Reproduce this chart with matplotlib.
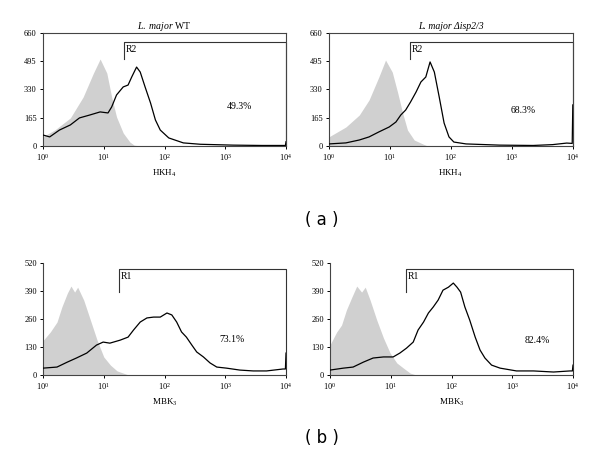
import matplotlib
matplotlib.use("Agg")
import matplotlib.pyplot as plt

plt.rcParams["font.family"] = ["Liberation Serif", "DejaVu Serif"]
plt.rcParams["mathtext.fontset"] = "custom"
plt.rcParams["mathtext.rm"] = "Liberation Serif"
plt.rcParams["mathtext.it"] = "Liberation Serif:italic"

# ---- panel (a) HKH4, WT ----
a1_gray_x = [0.0, 0.2, 0.45, 0.66, 0.83, 0.94, 1.05, 1.13, 1.21, 1.32, 1.43, 1.5, 1.6]
a1_gray_y = [55, 95, 164, 286, 426, 508, 426, 286, 170, 76, 23, 5, 0]
a1_line_x = [0.0, 0.11, 0.27, 0.45, 0.6, 0.77, 0.94, 1.07, 1.13, 1.21, 1.32, 1.4, 1.46,
             1.54, 1.6, 1.68, 1.77, 1.85, 1.93, 2.07, 2.31, 2.59, 3.13, 3.6, 3.99, 4.0]
a1_line_y = [64, 53, 93, 123, 164, 181, 199, 193, 228, 298, 345, 356, 403,
             461, 432, 345, 251, 152, 93, 47, 18, 10, 5, 3, 3, 25]

# ---- panel (a) HKH4, delta isp2/3 ----
a2_gray_x = [0.0, 0.28, 0.5, 0.66, 0.82, 0.93, 1.04, 1.13, 1.21, 1.29, 1.4, 1.54, 1.62]
a2_gray_y = [53, 111, 181, 269, 403, 502, 432, 310, 193, 93, 35, 12, 0]
a2_line_x = [0.0, 0.28, 0.5, 0.66, 0.82, 0.99, 1.1, 1.18, 1.26, 1.34, 1.43, 1.51, 1.59,
             1.66, 1.73, 1.81, 1.89, 1.97, 2.05, 2.25, 2.8, 3.35, 3.67, 3.9, 3.99, 4.0]
a2_line_y = [12, 18, 35, 53, 82, 111, 140, 181, 210, 257, 315, 374, 403,
             491, 432, 286, 134, 53, 23, 12, 5, 3, 8, 17, 15, 240]

# ---- panel (b) MBK3, WT ----
b1_gray_x = [0.0, 0.12, 0.23, 0.31, 0.4, 0.46, 0.52, 0.57, 0.67, 0.78, 0.89, 1.0, 1.11,
             1.22, 1.38, 1.45]
b1_gray_y = [160, 200, 246, 316, 380, 413, 385, 408, 348, 255, 162, 84, 46,
             19, 3, 0]
b1_line_x = [0.0, 0.23, 0.4, 0.55, 0.72, 0.88, 0.99, 1.1, 1.27, 1.4, 1.49, 1.6, 1.71,
             1.82, 1.93, 2.04, 2.12, 2.2, 2.28, 2.36, 2.45, 2.53, 2.64, 2.75, 2.86,
             3.02, 3.24, 3.46, 3.68, 3.95, 3.99, 4.0]
b1_line_y = [32, 37, 60, 79, 102, 139, 153, 148, 162, 176, 209, 246, 265,
             269, 269, 288, 279, 246, 200, 176, 139, 107, 84, 56, 37,
             32, 23, 19, 19, 28, 28, 102]

# ---- panel (b) MBK3, delta isp2/3 ----
b2_gray_x = [0.0, 0.11, 0.19, 0.27, 0.36, 0.44, 0.52, 0.58, 0.66, 0.77, 0.88, 0.99, 1.1,
             1.21, 1.32, 1.42]
b2_gray_y = [140, 200, 232, 302, 362, 413, 385, 408, 348, 255, 172, 102, 56,
             32, 9, 0]
b2_line_x = [0.0, 0.22, 0.38, 0.55, 0.71, 0.88, 1.04, 1.15, 1.26, 1.37, 1.45, 1.54, 1.62,
             1.7, 1.78, 1.86, 1.95, 2.03, 2.09, 2.15, 2.22, 2.3, 2.39, 2.47, 2.55,
             2.66, 2.8, 3.07, 3.35, 3.68, 3.95, 3.99, 4.0]
b2_line_y = [23, 32, 37, 60, 79, 84, 84, 102, 125, 153, 209, 246, 288,
             316, 348, 394, 408, 427, 408, 385, 316, 255, 176, 116, 79,
             46, 32, 19, 19, 14, 19, 19, 46]

titles = [r"$\mathit{L.\ major}$ WT", "L. major \u0394isp2/3"]
pcts_a = ["49.3%", "68.3%"]
pcts_b = ["73.1%", "82.4%"]

fig = plt.figure(figsize=(6, 4.63), dpi=100)

panels = [
    # rect, gray, line, ymax, gate, pct, pct pos, xlabel, title, box
    ([0.0717, 0.6847, 0.405, 0.244], a1_gray_x, a1_gray_y, a1_line_x, a1_line_y,
     660, "R2", 1.33, 508, 607, pcts_a[0], 3.23, 228, r"HKH$_4$", titles[0], True),
    ([0.548, 0.6847, 0.4067, 0.244], a2_gray_x, a2_gray_y, a2_line_x, a2_line_y,
     660, "R2", 1.33, 508, 607, pcts_a[1], 3.18, 210, r"HKH$_4$", titles[1], True),
    ([0.0717, 0.19, 0.405, 0.2419], b1_gray_x, b1_gray_y, b1_line_x, b1_line_y,
     520, "R1", 1.25, 385, 492, pcts_b[0], 3.11, 167, r"MBK$_3$", None, False),
    ([0.55, 0.19, 0.405, 0.2419], b2_gray_x, b2_gray_y, b2_line_x, b2_line_y,
     520, "R1", 1.25, 385, 492, pcts_b[1], 3.41, 158, r"MBK$_3$", None, False),
]

for (rect, gx, gy, lx, ly, ymax, gname, gl, gy0, gy1, pct, px, py,
     xlab, title, topframe) in panels:
    ax = fig.add_axes(rect)
    gxs = [10 ** v for v in gx]
    lxs = [10 ** v for v in lx]
    ax.fill_between(gxs, 0, gy, color="#d0d0d0", linewidth=0, zorder=1)
    ax.plot(lxs, ly, color="black", linewidth=0.9, zorder=3)
    # gate marker
    g0 = 10 ** gl
    ax.plot([g0, g0, 1e4, 1e4], [gy0, gy1, gy1, 0], color="#333333",
            linewidth=0.8, zorder=2, clip_on=False)
    ax.text(g0 * 1.08, gy1 - ymax * 0.03, gname, fontsize=7, va="top", ha="left")
    ax.text(10 ** px, py, pct, fontsize=7, ha="center", va="center")
    ax.set_xscale("log")
    ax.set_xlim(1, 1e4)
    ax.set_ylim(0, ymax)
    ax.set_xticks([1, 10, 100, 1000, 10000])
    ax.minorticks_off()
    ax.set_yticks([ymax * k / 4 for k in range(5)])
    ax.set_yticklabels([str(int(ymax * k / 4)) for k in range(5)])
    ax.tick_params(labelsize=6, length=2.5, width=0.7, pad=2)
    for s in ax.spines.values():
        s.set_linewidth(0.8)
        s.set_color("#444444")
    ax.spines["top"].set_visible(topframe)
    ax.spines["right"].set_visible(topframe)
    ax.set_xlabel(xlab, fontsize=6.5, labelpad=3)
    if title:
        ax.set_title(title, fontsize=7, pad=3,
                     fontstyle="italic" if "\u0394" in title else "normal")

fig.text(0.537, 1 - 220 / 463, "( a )", fontsize=12, family="DejaVu Sans",
         ha="center", va="center")
fig.text(0.537, 1 - 438 / 463, "( b )", fontsize=12, family="DejaVu Sans",
         ha="center", va="center")

fig.savefig("out.png", dpi=100)
